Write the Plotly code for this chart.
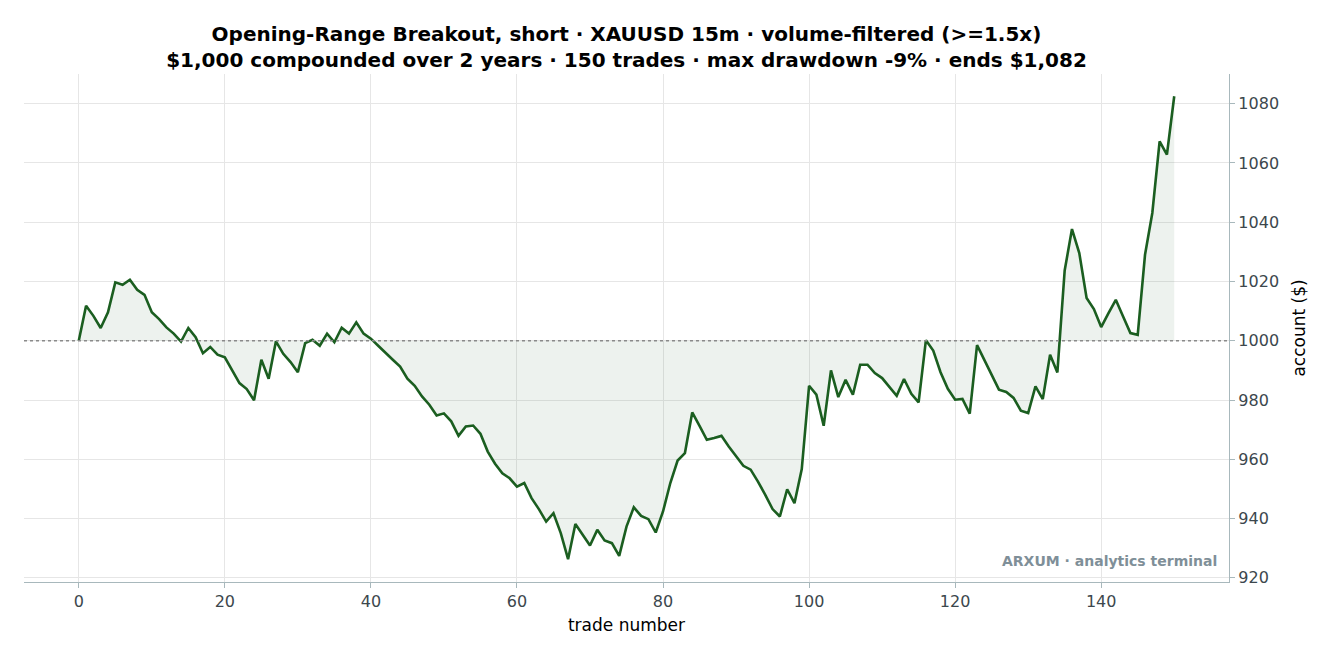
import plotly.graph_objects as go

# equity curve, one value per trade (0..150)
trades=list(range(151))
account=[1000.0,1011.8,1008.4,1004.3,1009.6,1019.7,1018.9,1020.6,1017.2,1015.5,
         1009.6,1007.3,1004.5,1002.4,999.7,1004.3,1001.2,995.8,997.9,995.3,
         994.4,990.2,985.7,983.7,979.9,993.6,987.2,999.8,995.6,992.8,
         989.4,999.2,1000.3,998.3,1002.4,999.5,1004.4,1002.4,1006.2,1002.4,
         1000.7,998.3,995.8,993.6,991.3,987.2,984.8,981.2,978.4,974.8,
         975.5,972.8,967.9,971.1,971.4,968.6,962.6,958.5,955.3,953.6,
         950.8,952.0,946.9,943.2,939.0,941.8,935.1,926.3,938.2,934.5,
         930.9,936.2,932.6,931.7,927.4,937.3,943.8,940.9,939.8,935.3,
         942.4,952.0,959.6,962.1,975.8,971.3,966.6,967.2,967.9,964.3,
         960.9,957.8,956.5,952.5,948.0,943.2,940.7,949.9,945.2,956.7,
         984.8,981.8,971.3,990.0,981.0,986.8,981.8,991.9,991.9,989.1,
         987.4,984.4,981.4,987.1,982.1,979.2,1000.2,996.7,989.4,983.8,
         980.1,980.4,975.4,998.5,993.6,988.2,983.5,982.7,980.7,976.4,
         975.6,984.6,980.3,995.3,989.3,1023.7,1037.7,1029.6,1014.4,1010.7,
         1004.6,1009.3,1013.8,1008.2,1002.6,1002.0,1029.0,1043.1,1067.3,1062.8,
         1082.5]
start_balance=1000
y_ticks=[920,940,960,980,1000,1020,1040,1060,1080]
x_ticks=[0,20,40,60,80,100,120,140]

title_text=('<b>Opening-Range Breakout, short · XAUUSD 15m · volume-filtered (>=1.5x)</b><br>'
            '<b>$1,000 compounded over 2 years · 150 trades · max drawdown -9% · ends $1,082</b>')

fig=go.Figure()
# baseline at starting balance, used as the fill reference
fig.add_trace(go.Scatter(x=trades,y=[start_balance]*len(trades),mode='lines',
                         line={'width':0,'color':'rgba(0,0,0,0)'},hoverinfo='skip',showlegend=False))
fig.add_trace(go.Scatter(x=trades,y=account,mode='lines',fill='tonexty',
                         fillcolor='rgba(27,94,32,0.08)',
                         line={'color':'#1b5e20','width':2.6},
                         showlegend=False))
fig.add_hline(y=start_balance,line={'color':'#8a8a8a','width':1.3,'dash':'dot'})
fig.add_annotation(text='<b>ARXUM · analytics terminal</b>',xref='paper',yref='paper',
                   x=0.992,y=0.022,xanchor='right',yanchor='bottom',showarrow=False,
                   font={'size':14,'color':'#7f8f98'})
fig.update_layout(title={'text':title_text,'x':0.5,'xref':'paper','xanchor':'center',
                         'y':0.95,'yanchor':'top',
                         'font':{'size':20,'color':'black'}},
                  font={'family':'DejaVu Sans','color':'#3c474d','size':16},
                  plot_bgcolor='white',paper_bgcolor='white',
                  width=1331,height=658,
                  margin={'l':16,'r':110,'t':66,'b':84},
                  xaxis={'title':{'text':'trade number','font':{'color':'black','size':17},'standoff':8},
                         'range':[-7.5,157.5],'tickvals':x_ticks,'showgrid':True,'gridcolor':'#e6e6e6',
                         'zeroline':False,'showline':True,'linecolor':'#a8b8bc','linewidth':1.3,
                         'ticks':'outside','ticklen':5,'tickcolor':'#a8b8bc'},
                  yaxis={'title':{'text':'account ($)','font':{'color':'black','size':17}},
                         'side':'right','range':[918.6,1090],'tickvals':y_ticks,
                         'showgrid':True,'gridcolor':'#e6e6e6','zeroline':False,
                         'showline':True,'linecolor':'#a8b8bc','linewidth':1.3,
                         'ticks':'outside','ticklen':5,'tickcolor':'#a8b8bc'})
fig.write_html('out.html')
